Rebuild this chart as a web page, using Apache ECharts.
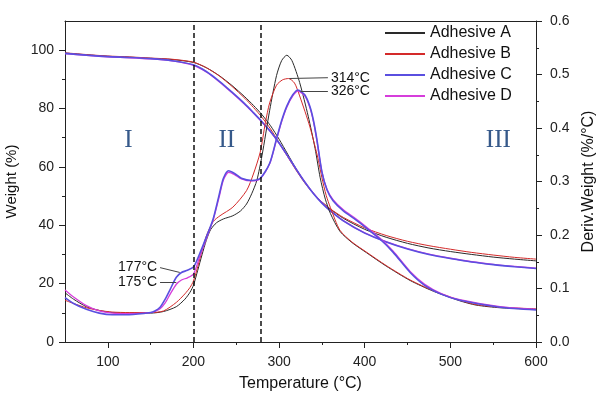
<!DOCTYPE html>
<html><head><meta charset="utf-8">
<script src="https://cdn.jsdelivr.net/npm/echarts@6/dist/echarts.min.js"></script>
<style>html,body{margin:0;padding:0;background:#fff}#c{width:597px;height:395px}</style>
</head><body><div id="c"></div>
<script>
const names = ['Adhesive A', 'Adhesive B', 'Adhesive C', 'Adhesive D'];
const colors = ['#2a2a2a', '#d42a2a', '#5a4fe0', '#d63ddb'];
const widths = [1, 1, 1.6, 1.3];

// Weight (%) curves, left axis
const tgT = [50, 75, 100, 125, 150, 175, 200, 215, 230, 245, 260, 270, 280, 290, 300, 310, 320, 330, 340, 350, 360, 375, 400, 425, 450, 475, 500, 525, 550, 575, 600];
const tgA = [99.0, 98.4, 97.9, 97.6, 97.2, 96.8, 95.8, 94.0, 91.3, 87.9, 84.0, 81.1, 77.9, 74.1, 69.5, 64.4, 59.3, 54.8, 51.0, 48.0, 45.5, 42.4, 38.6, 35.9, 33.8, 32.2, 31.0, 30.0, 29.1, 28.4, 27.8];
const tgB = [99.1, 98.5, 98.0, 97.7, 97.3, 96.9, 95.9, 94.0, 91.2, 87.6, 83.5, 80.4, 77.0, 73.0, 68.3, 63.5, 58.8, 54.5, 50.9, 48.0, 45.6, 42.7, 39.1, 36.5, 34.5, 33.0, 31.8, 30.7, 29.8, 29.0, 28.4];
const tgC = [98.9, 98.3, 97.8, 97.5, 97.1, 96.4, 95.0, 92.7, 89.4, 85.6, 81.6, 78.6, 75.5, 72.1, 68.2, 63.8, 59.2, 54.8, 50.9, 47.6, 44.9, 41.5, 37.3, 34.3, 31.9, 30.0, 28.6, 27.4, 26.5, 25.8, 25.2];
const tgD = [98.8, 98.2, 97.7, 97.4, 97.0, 96.3, 94.8, 92.5, 89.2, 85.4, 81.4, 78.5, 75.4, 72.0, 68.1, 63.7, 59.2, 54.9, 51.0, 47.7, 45.0, 41.6, 37.4, 34.4, 32.0, 30.1, 28.7, 27.5, 26.6, 25.9, 25.3];

// Deriv. weight (%/°C) curves, right axis: [temperature, value]
const dtgA = [[50,0.092],[60,0.080],[75,0.066],[90,0.059],[105,0.055],[125,0.054],[150,0.054],[165,0.057],[180,0.066],[190,0.080],[196,0.093],[200,0.106],[205,0.134],[210,0.163],[215,0.190],[220,0.210],[227,0.223],[235,0.230],[246,0.236],[255,0.245],[262,0.258],[268,0.277],[274,0.302],[280,0.348],[289,0.433],[297,0.498],[303,0.526],[309,0.536],[315,0.526],[324,0.485],[334,0.422],[342,0.362],[348,0.307],[354,0.267],[360,0.240],[371,0.207],[385,0.186],[402,0.167],[425,0.142],[453,0.115],[480,0.095],[511,0.077],[530,0.069],[558,0.064],[600,0.061]];
const dtgB = [[50,0.078],[60,0.072],[75,0.064],[90,0.059],[105,0.056],[125,0.055],[150,0.055],[165,0.058],[180,0.074],[190,0.090],[196,0.102],[200,0.114],[205,0.141],[210,0.170],[215,0.198],[223,0.225],[231,0.236],[246,0.252],[262,0.283],[270,0.314],[278,0.355],[284,0.410],[289,0.447],[297,0.480],[304,0.490],[311,0.4925],[318,0.484],[324,0.460],[336,0.402],[346,0.339],[350,0.307],[355,0.274],[360,0.251],[371,0.209],[385,0.187],[402,0.168],[425,0.143],[453,0.116],[480,0.096],[511,0.078],[530,0.070],[558,0.065],[600,0.062]];
const dtgC = [[50,0.083],[60,0.072],[75,0.061],[90,0.054],[105,0.051],[125,0.051],[150,0.055],[155,0.058],[161,0.065],[167,0.080],[173,0.099],[180,0.121],[186,0.130],[193,0.134],[200,0.140],[207,0.164],[215,0.196],[223,0.230],[230,0.275],[235,0.306],[241,0.320],[248,0.315],[256,0.306],[268,0.302],[278,0.306],[289,0.334],[297,0.380],[303,0.414],[309,0.441],[316,0.462],[322,0.471],[330,0.462],[336,0.440],[340,0.415],[344,0.380],[350,0.318],[356,0.284],[363,0.264],[375,0.245],[390,0.228],[402,0.213],[418,0.192],[433,0.168],[453,0.130],[470,0.106],[490,0.089],[511,0.078],[558,0.065],[600,0.060]];
const dtgD = [[50,0.097],[60,0.084],[75,0.068],[90,0.058],[105,0.054],[125,0.053],[150,0.055],[155,0.057],[161,0.062],[167,0.073],[173,0.090],[180,0.108],[186,0.116],[193,0.120],[200,0.127],[207,0.158],[215,0.193],[223,0.228],[230,0.271],[235,0.303],[241,0.317],[248,0.313],[256,0.305],[268,0.301],[278,0.305],[289,0.333],[297,0.378],[303,0.412],[309,0.439],[316,0.460],[322,0.469],[330,0.460],[336,0.438],[340,0.413],[344,0.378],[350,0.318],[356,0.285],[363,0.266],[375,0.247],[390,0.230],[402,0.215],[418,0.194],[433,0.170],[453,0.132],[470,0.108],[490,0.090],[511,0.079],[558,0.066],[600,0.061]];

const xMajor = [100, 200, 300, 400, 500, 600];
const xMinor = [150, 250, 350, 450, 550];
const wMajor = [0, 20, 40, 60, 80, 100];
const wMinor = [10, 30, 50, 70, 90];
const dMajor = [0, 0.1, 0.2, 0.3, 0.4, 0.5, 0.6];
const dMinor = [0.05, 0.15, 0.25, 0.35, 0.45, 0.55];
const stageBounds = [200, 278];
const stageLabels = ['I', 'II', 'III'];
const stageCenters = [124, 239, 556];
const peakLabels = ['314°C', '326°C'];
const onsetLabels = ['177°C', '175°C'];

const tgs = [tgA, tgB, tgC, tgD];
const dtgs = [dtgA, dtgB, dtgC, dtgD];
const FONT = '"Liberation Sans", Arial, sans-serif';
const AX = { color: '#222', width: 1 };

const arrow = {
  silent: true, symbol: ['none', 'arrow'], symbolSize: [0, 7],
  lineStyle: { color: '#444', width: 1, type: 'solid' },
  label: { show: true, position: 'start', formatter: '{b}', fontSize: 14, color: '#111', fontFamily: FONT, distance: 3 },
  emphasis: { disabled: true }
};

const series = [];
const order = [0, 1, 3, 2];
order.forEach(i => {
  const s = {
    name: names[i], type: 'line', xAxisIndex: 0, yAxisIndex: 0,
    data: tgT.map((t, j) => [t, tgs[i][j]]),
    symbol: 'none', smooth: 0.25,
    lineStyle: { color: colors[i], width: widths[i] }, itemStyle: { color: colors[i] }
  };
  if (i === 0) {
    s.markLine = {
      silent: true, symbol: ['none', 'none'],
      lineStyle: { color: '#111', width: 1.5, type: [5, 3] },
      label: { show: false },
      data: stageBounds.map(v => ({ xAxis: v }))
    };
    s.markPoint = {
      silent: true, symbol: 'rect', symbolSize: 1, itemStyle: { color: 'rgba(0,0,0,0)' },
      label: { show: true, position: 'inside', formatter: '{b}', fontFamily: '"Liberation Serif", "Times New Roman", serif', fontSize: 25, color: '#36598a' },
      data: stageLabels.map((n, k) => ({ name: n, coord: [stageCenters[k], 69] }))
    };
  }
  series.push(s);
});
order.forEach(i => {
  const s = {
    name: names[i], type: 'line', xAxisIndex: 0, yAxisIndex: 2,
    data: dtgs[i], symbol: 'none', smooth: 0.25,
    lineStyle: { color: colors[i], width: widths[i] }, itemStyle: { color: colors[i] }
  };
  if (i === 1) s.markLine = Object.assign({}, arrow, { data: [[{ name: peakLabels[0], coord: [357, 0.494] }, { coord: [312, 0.4925] }]] });
  if (i === 2) s.markLine = Object.assign({}, arrow, { data: [
    [{ name: peakLabels[1], coord: [357, 0.469] }, { coord: [325, 0.469] }],
    [{ name: onsetLabels[0], coord: [161, 0.139] }, { coord: [184, 0.130] }]
  ] });
  if (i === 3) s.markLine = Object.assign({}, arrow, { data: [[{ name: onsetLabels[1], coord: [161, 0.1125] }, { coord: [180, 0.112] }]] });
  series.push(s);
});

const chart = echarts.init(document.getElementById('c'), null, { renderer: 'canvas' });
chart.setOption({
  animation: false,
  backgroundColor: '#fff',
  grid: { left: 65, right: 61, top: 21, bottom: 53, containLabel: false, outerBoundsMode: 'none' },
  legend: {
    data: names, orient: 'vertical', left: 384, top: 23, padding: 0,
    itemWidth: 40, itemHeight: 20, itemGap: 1,
    itemStyle: { opacity: 0, borderWidth: 0 },
    textStyle: { fontSize: 16, color: '#111', fontFamily: FONT, lineHeight: 20 },
    selectedMode: false
  },
  xAxis: [
    { type: 'value', min: 50, max: 600, position: 'bottom',
      axisLine: { show: true, onZero: false, lineStyle: AX },
      axisTick: { show: true, inside: false, length: 6, customValues: xMajor, lineStyle: AX },
      axisLabel: { customValues: xMajor, fontSize: 14, color: '#222', fontFamily: FONT, margin: 13 },
      splitLine: { show: false },
      name: 'Temperature (°C)', nameLocation: 'middle', nameGap: 34,
      nameTextStyle: { fontSize: 16, color: '#111', fontFamily: FONT } },
    { type: 'value', min: 50, max: 600, position: 'bottom',
      axisLine: { show: false, onZero: false },
      axisTick: { show: true, length: 3, customValues: xMinor, lineStyle: AX },
      axisLabel: { show: false }, splitLine: { show: false } },
    { type: 'value', min: 50, max: 600, position: 'top',
      axisLine: { show: true, onZero: false, lineStyle: AX },
      axisTick: { show: false }, axisLabel: { show: false }, splitLine: { show: false } }
  ],
  yAxis: [
    { type: 'value', min: 0, max: 110, position: 'left',
      axisLine: { show: true, onZero: false, lineStyle: AX },
      axisTick: { show: true, length: 6, customValues: wMajor, lineStyle: AX },
      axisLabel: { customValues: wMajor, fontSize: 14, color: '#222', fontFamily: FONT, margin: 11 },
      splitLine: { show: false },
      name: 'Weight (%)', nameLocation: 'middle', nameGap: 30,
      nameTextStyle: { fontSize: 15, color: '#111', fontFamily: FONT } },
    { type: 'value', min: 0, max: 110, position: 'left',
      axisLine: { show: false, onZero: false },
      axisTick: { show: true, length: 3, customValues: wMinor, lineStyle: AX },
      axisLabel: { show: false }, splitLine: { show: false } },
    { type: 'value', min: 0, max: 0.6, position: 'right',
      axisLine: { show: true, onZero: false, lineStyle: AX },
      axisTick: { show: true, length: 6, customValues: dMajor, lineStyle: AX },
      axisLabel: { customValues: dMajor, formatter: v => v.toFixed(1), fontSize: 14, color: '#222', fontFamily: FONT, margin: 14 },
      splitLine: { show: false },
      name: 'Deriv.Weight (%/°C)', nameLocation: 'middle', nameGap: 42,
      nameTextStyle: { fontSize: 16, color: '#111', fontFamily: FONT } },
    { type: 'value', min: 0, max: 0.6, position: 'right',
      axisLine: { show: false, onZero: false },
      axisTick: { show: true, length: 3, customValues: dMinor, lineStyle: AX },
      axisLabel: { show: false }, splitLine: { show: false } }
  ],
  series: series
});
</script>
</body></html>
